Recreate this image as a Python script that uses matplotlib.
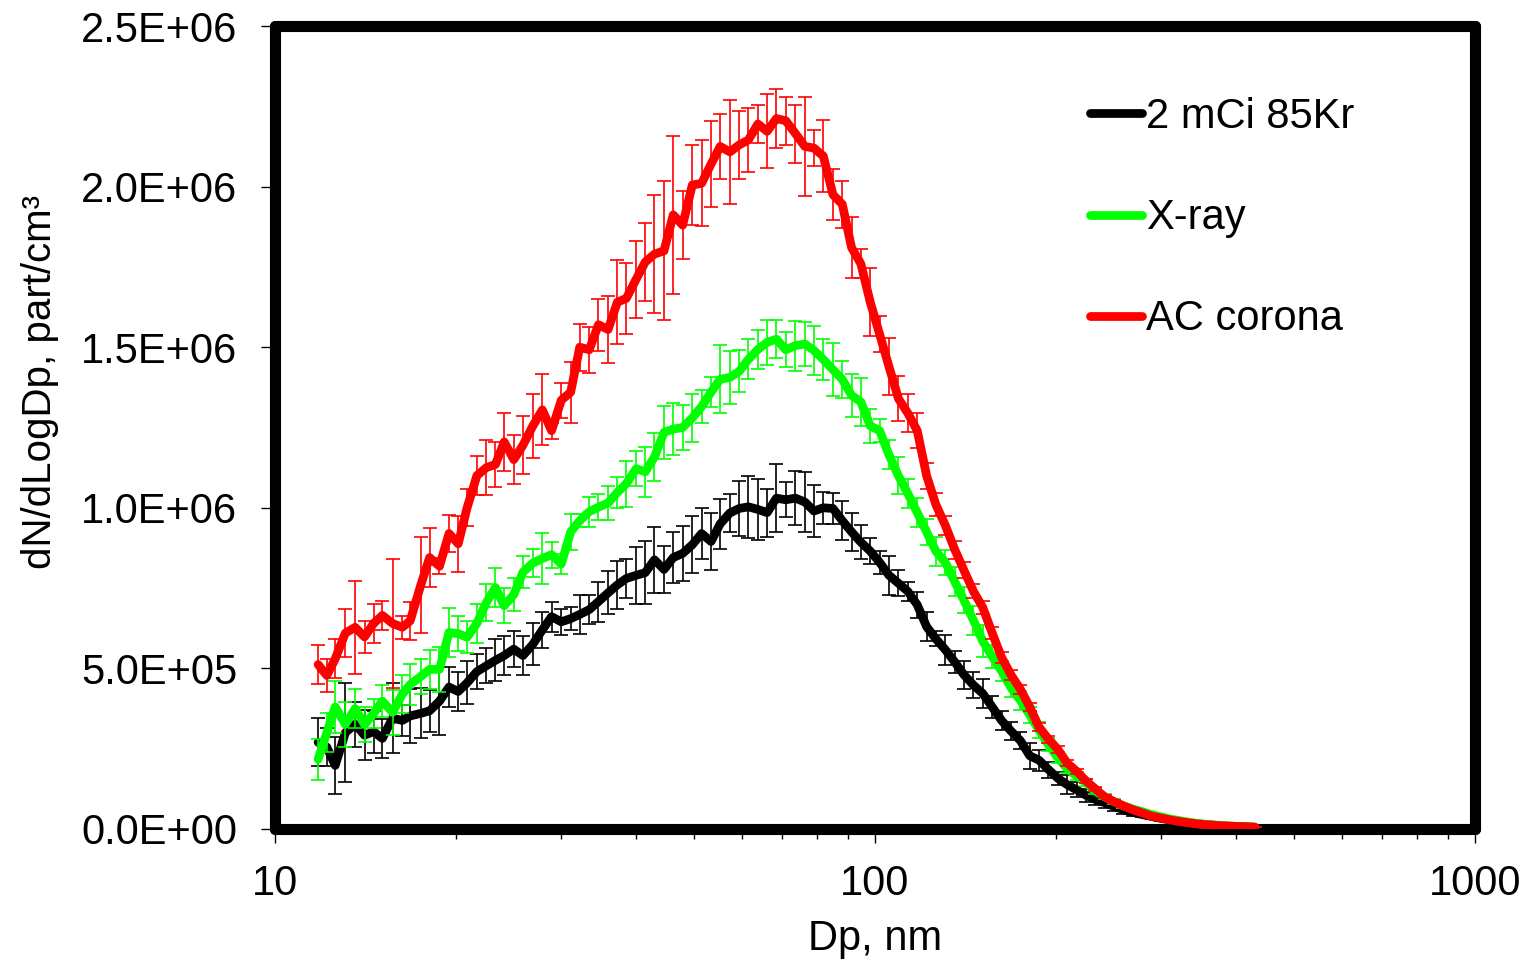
import matplotlib
matplotlib.use("Agg")
import matplotlib.pyplot as plt
from matplotlib.ticker import FuncFormatter, LogLocator, NullFormatter

plt.rcParams["font.family"] = ["Liberation Sans", "DejaVu Sans"]

# Diametros dos canais (nm)
dp = [11.8, 12.2, 12.6, 13.1, 13.6, 14.1, 14.6, 15.1, 15.7, 16.3,
      16.8, 17.5, 18.1, 18.8, 19.5, 20.2, 20.9, 21.7, 22.5, 23.3,
      24.1, 25.0, 25.9, 26.9, 27.9, 28.9, 30.0, 31.1, 32.2, 33.4,
      34.6, 35.9, 37.2, 38.5, 40.0, 41.4, 42.9, 44.5, 46.1, 47.8,
      49.6, 51.4, 53.3, 55.2, 57.3, 59.4, 61.5, 63.8, 66.1, 68.5,
      71.0, 73.7, 76.4, 79.1, 82.0, 85.1, 88.2, 91.4, 94.7, 98.2,
      101.8, 105.5, 109.4, 113.4, 117.6, 121.9, 126.3, 131.0, 135.8, 140.7,
      145.9, 151.2, 156.8, 162.5, 168.5, 174.7, 181.1, 187.7, 194.6, 201.7,
      209.1, 216.7, 224.7, 232.9, 241.4, 250.3, 259.5, 269.0, 278.8, 289.0,
      299.6, 310.6, 322.0, 333.8, 346.0, 358.7, 371.8, 385.4, 399.5, 414.2,
      429.4]

# dN/dLogDp em milhares de part/cm3
kr85 = [270, 255, 198, 300, 326, 292, 303, 282, 345, 338,
        352, 360, 368, 398, 442, 428, 455, 490, 508, 525,
        540, 560, 540, 575, 620, 661, 645, 655, 668, 683,
        708, 735, 760, 780, 790, 798, 838, 808, 845, 858,
        885, 920, 895, 950, 984, 998, 1003, 995, 985, 1030,
        1025, 1030, 1018, 990, 1000, 998, 960, 925, 893, 865,
        830, 790, 765, 740, 698, 630, 592, 558, 520, 480,
        448, 422, 380, 338, 305, 275, 228, 214, 185, 158,
        138, 122, 105, 92, 82, 70, 60, 52, 45, 39,
        33, 28, 23, 19, 16, 13, 11, 9, 8, 7, 5]
kr85_err = [75, 60, 88, 155, 70, 78, 65, 60, 108, 47,
            83, 78, 65, 106, 62, 62, 67, 55, 54, 65,
            60, 55, 60, 65, 55, 47, 41, 36, 62, 44,
            62, 67, 75, 62, 88, 98, 103, 72, 80, 85,
            88, 78, 88, 78, 60, 85, 96, 96, 75, 106,
            54, 85, 93, 80, 49, 49, 60, 60, 52, 40,
            35, 60, 40, 29, 40, 46, 23, 46, 35, 43,
            40, 46, 35, 29, 29, 26, 40, 32, 25, 20,
            29, 23, 20, 17, 17, 15, 12, 10, 9, 8,
            7, 6, 5, 4, 4, 3, 3, 2, 2, 2, 1]

xray = [217, 300, 380, 326, 375, 325, 360, 398, 363, 420,
        450, 475, 497, 497, 612, 608, 597, 640, 705, 752,
        695, 730, 800, 828, 842, 854, 825, 925, 960, 988,
        1002, 1015, 1048, 1075, 1122, 1112, 1158, 1235, 1245, 1250,
        1280, 1315, 1360, 1400, 1406, 1425, 1462, 1493, 1515, 1525,
        1492, 1505, 1510, 1490, 1462, 1430, 1400, 1350, 1330, 1255,
        1240, 1165, 1100, 1045, 985, 925, 865, 830, 770, 712,
        650, 585, 537, 492, 440, 400, 355, 307, 262, 222,
        188, 165, 145, 118, 100, 85, 72, 62, 54, 45,
        38, 31, 26, 21, 17, 14, 12, 10, 8, 7, 6]
xray_err = [64, 60, 80, 70, 60, 55, 45, 50, 70, 60,
            65, 55, 60, 70, 75, 55, 50, 60, 57, 62,
            55, 50, 49, 44, 80, 41, 31, 57, 20, 47,
            41, 54, 49, 72, 54, 78, 75, 83, 80, 70,
            75, 52, 47, 106, 83, 65, 62, 60, 70, 60,
            55, 78, 70, 75, 65, 83, 57, 67, 75, 52,
            36, 45, 57, 45, 45, 40, 45, 40, 45, 40,
            45, 49, 35, 30, 30, 30, 25, 25, 20, 18,
            15, 12, 10, 9, 8, 7, 6, 5, 5, 4,
            4, 3, 3, 2, 2, 2, 2, 1, 1, 1, 1]

corona = [512, 478, 530, 610, 628, 598, 640, 665, 640, 628,
          648, 760, 845, 818, 920, 888, 1000, 1100, 1125, 1135,
          1205, 1150, 1195, 1255, 1305, 1240, 1335, 1360, 1500, 1492,
          1570, 1555, 1640, 1652, 1712, 1765, 1790, 1800, 1912, 1880,
          2005, 2010, 2070, 2125, 2108, 2130, 2145, 2195, 2172, 2212,
          2205, 2165, 2125, 2120, 2095, 1975, 1945, 1810, 1760, 1640,
          1540, 1440, 1340, 1295, 1240, 1100, 1010, 945, 870, 805,
          740, 690, 610, 535, 480, 435, 380, 317, 280, 248,
          205, 180, 150, 125, 100, 85, 72, 60, 50, 40,
          34, 28, 23, 19, 15, 13, 11, 9, 8, 7, 6]
corona_err = [62, 50, 60, 75, 145, 50, 60, 45, 200, 35,
              60, 150, 93, 25, 57, 88, 57, 60, 85, 70,
              90, 76, 90, 100, 111, 25, 55, 95, 73, 71,
              81, 105, 130, 110, 120, 122, 184, 216, 247, 106,
              124, 134, 135, 102, 161, 105, 99, 58, 115, 92,
              74, 90, 155, 55, 112, 79, 73, 95, 45, 106,
              56, 90, 70, 60, 55, 40, 35, 30, 28, 25,
              22, 20, 18, 17, 15, 14, 13, 12, 11, 10,
              9, 8, 7, 6, 5, 4, 4, 3, 3, 3,
              2, 2, 2, 2, 1, 1, 1, 1, 1, 1, 1]

series = [
    ("2 mCi 85Kr", kr85, kr85_err, "#000000"),
    ("X-ray", xray, xray_err, "#00ff00"),
    ("AC corona", corona, corona_err, "#ff0000"),
]

fig = plt.figure(figsize=(15.25, 9.6), dpi=100)
ax = fig.add_axes([275 / 1525, 1 - 829 / 960, 1200 / 1525, 803 / 960])

z = 2
for nome, y, err, cor in series:
    yv = [v * 1e3 for v in y]
    ev = [e * 1e3 for e in err]
    ax.errorbar(dp, yv, yerr=ev, fmt="none", ecolor=cor, elinewidth=1.2,
                capsize=5, capthick=1.2, zorder=z)
    ax.plot(dp, yv, color=cor, lw=6.3, solid_capstyle="round",
            solid_joinstyle="round", label=nome, zorder=z + 1)
    z += 2

ax.set_xscale("log")
ax.set_xlim(10, 1000)
ax.set_ylim(0, 2.5e6)
ax.set_yticks([0, 5e5, 1e6, 1.5e6, 2e6, 2.5e6])
ax.yaxis.set_major_formatter(FuncFormatter(lambda v, p: f"{v:.1E}"))
ax.xaxis.set_major_locator(LogLocator(base=10))
ax.xaxis.set_minor_locator(LogLocator(base=10, subs=range(2, 10)))
ax.xaxis.set_minor_formatter(NullFormatter())
ax.xaxis.set_major_formatter(FuncFormatter(lambda v, p: f"{v:.0f}"))

for s in ax.spines.values():
    s.set_linewidth(8)
    s.set_capstyle("round")
    s.set_joinstyle("round")

ax.tick_params(axis="both", which="major", direction="out", length=10,
               width=1, labelsize=30, color="black")
ax.tick_params(axis="x", which="minor", direction="out", length=7, width=1)
ax.tick_params(axis="y", pad=17)
ax.tick_params(axis="x", which="major", pad=15)

ax.set_xlabel("Dp, nm", fontsize=30, labelpad=11)
ax.set_ylabel("dN/dLogDp, part/cm\u00b3", fontsize=29)
ax.yaxis.set_label_coords(-0.18, 0.557)

ax.legend(loc="upper left", bbox_to_anchor=(1090 / 1525, 1 - 97 / 960),
          bbox_transform=fig.transFigure, frameon=False, fontsize=30,
          handlelength=1.25, handletextpad=0.1, labelspacing=1.47,
          borderpad=0, borderaxespad=0)

plt.savefig("out.png", dpi=100)
